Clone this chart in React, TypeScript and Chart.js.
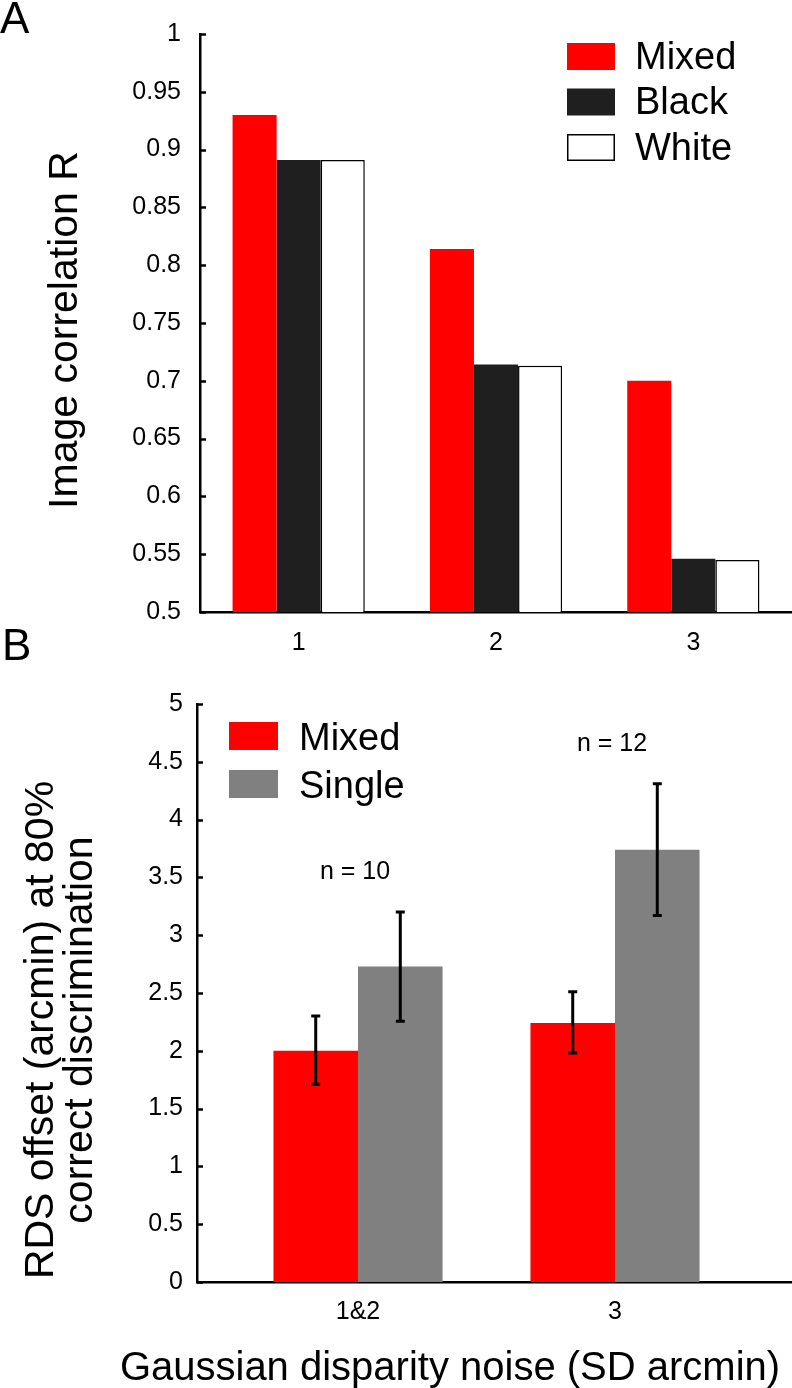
import React, { useEffect, useRef } from 'react';
import { Chart, registerables } from 'chart.js';

Chart.register(...registerables);

const FONT = '"Liberation Sans", Arial, Helvetica, sans-serif';

// ---------- Panel A data ----------
const A_CATEGORIES = ['1', '2', '3'];
const A_MIXED = [0.93, 0.814, 0.7];
const A_BLACK = [0.891, 0.714, 0.546];
const A_WHITE = [0.891, 0.713, 0.545];
const A_Y_TICKS = [0.5, 0.55, 0.6, 0.65, 0.7, 0.75, 0.8, 0.85, 0.9, 0.95, 1];
const A_Y_TITLE = 'Image correlation R';
const A_LEGEND = ['Mixed', 'Black', 'White'];

// ---------- Panel B data ----------
const B_CATEGORIES = ['1&2', '3'];
const B_X = [1, 2];
const B_MIXED = [2.0, 2.24];
const B_MIXED_LO = [1.71, 1.98];
const B_MIXED_HI = [2.3, 2.51];
const B_SINGLE = [2.73, 3.74];
const B_SINGLE_LO = [2.255, 3.17];
const B_SINGLE_HI = [3.2, 4.31];
const B_N_LABELS = ['n = 10', 'n = 12'];
const B_Y_TICKS = [0, 0.5, 1, 1.5, 2, 2.5, 3, 3.5, 4, 4.5, 5];
const B_Y_TITLE = ['RDS offset (arcmin) at 80%', 'correct discrimination'];
const B_X_TITLE = 'Gaussian disparity noise (SD arcmin)';
const B_LEGEND = ['Mixed', 'Single'];

const RED = '#ff0000';
const DARK = '#1f1f1f';
const GREY = '#808080';

const fmt = (v: number) => String(+Number(v).toFixed(2));

function innerTicks(len: number, width: number) {
  return {
    id: 'innerTicks',
    afterDraw(chart: any) {
      const y = chart.scales.y;
      const ctx = chart.ctx;
      const left = chart.chartArea.left;
      ctx.save();
      ctx.strokeStyle = '#000';
      ctx.lineWidth = width;
      y.ticks.forEach((t: any) => {
        const py = Math.round(y.getPixelForValue(t.value)) + 0.5;
        ctx.beginPath();
        ctx.moveTo(left, py);
        ctx.lineTo(left + len, py);
        ctx.stroke();
      });
      ctx.restore();
    },
  };
}

function drawLegend(
  chart: any,
  labels: string[],
  boxX: number,
  boxTop0: number,
  step: number,
  boxW: number,
  boxH: number,
  textX: number,
  baseOff: number,
  size: number
) {
  const ctx = chart.ctx;
  ctx.save();
  ctx.font = `${size}px ${FONT}`;
  ctx.textAlign = 'left';
  ctx.textBaseline = 'alphabetic';
  labels.forEach((lab, i) => {
    const ds = chart.data.datasets[i];
    const top = boxTop0 + i * step;
    ctx.fillStyle = ds.backgroundColor;
    ctx.fillRect(boxX, top, boxW, boxH);
    if (ds.borderWidth) {
      ctx.strokeStyle = ds.borderColor;
      ctx.lineWidth = 1.5;
      ctx.strokeRect(boxX + 0.75, top + 0.75, boxW - 1.5, boxH - 1.5);
    }
    ctx.fillStyle = '#000';
    ctx.fillText(lab, textX, top + baseOff);
  });
  ctx.restore();
}

function PanelA() {
  const ref = useRef<HTMLCanvasElement>(null);
  useEffect(() => {
    const decor = {
      id: 'decorA',
      afterDraw(chart: any) {
        const ctx = chart.ctx;
        ctx.save();
        ctx.fillStyle = '#000';
        ctx.font = `44px ${FONT}`;
        ctx.textAlign = 'left';
        ctx.textBaseline = 'alphabetic';
        ctx.fillText('A', 0, 33);
        ctx.translate(77, 330);
        ctx.rotate(-Math.PI / 2);
        ctx.textAlign = 'center';
        ctx.font = `41px ${FONT}`;
        ctx.fillText(A_Y_TITLE, 0, 0);
        ctx.restore();
        drawLegend(chart, A_LEGEND, 567, 43, 45.5, 48, 27, 635, 25.5, 38);
      },
    };
    const chart = new Chart(ref.current as HTMLCanvasElement, {
      type: 'bar',
      data: {
        labels: A_CATEGORIES,
        datasets: [
          { label: A_LEGEND[0], data: A_MIXED, backgroundColor: RED, borderWidth: 0 },
          { label: A_LEGEND[1], data: A_BLACK, backgroundColor: DARK, borderWidth: 0 },
          {
            label: A_LEGEND[2],
            data: A_WHITE,
            backgroundColor: '#ffffff',
            borderColor: '#000000',
            borderWidth: 1.5,
            borderSkipped: 'bottom',
          },
        ],
      } as any,
      options: {
        responsive: false,
        animation: false,
        layout: { padding: { top: 30, left: 0, right: 0, bottom: 0 } },
        datasets: { bar: { categoryPercentage: 0.67, barPercentage: 1 } },
        plugins: { legend: { display: false }, tooltip: { enabled: false } },
        scales: {
          x: {
            z: 1,
            grid: { display: false, drawTicks: false },
            border: { display: true, color: '#000', width: 2.5 },
            ticks: { font: { family: FONT, size: 25 }, color: '#000', padding: 16 },
            afterFit: (s: any) => {
              s.height = 68;
            },
          },
          y: {
            z: 1,
            min: 0.5,
            max: 1,
            afterBuildTicks: (s: any) => {
              s.ticks = A_Y_TICKS.map((v) => ({ value: v }));
            },
            grid: { display: false, drawTicks: false },
            border: { display: true, color: '#000', width: 2.5 },
            ticks: {
              font: { family: FONT, size: 25 },
              color: '#000',
              padding: 19,
              callback: (v: any) => fmt(v),
            },
            afterFit: (s: any) => {
              s.width = 200;
            },
          },
        },
      } as any,
      plugins: [innerTicks(6, 2.5), decor],
    });
    return () => chart.destroy();
  }, []);
  return (
    <canvas
      ref={ref}
      width={792}
      height={680}
      style={{ position: 'absolute', left: 0, top: 0, width: 792, height: 680 }}
    />
  );
}

function PanelB() {
  const ref = useRef<HTMLCanvasElement>(null);
  useEffect(() => {
    const errorBars = {
      id: 'errorBars',
      afterDatasetsDraw(chart: any) {
        const ctx = chart.ctx;
        const y = chart.scales.y;
        const sets = [
          [B_MIXED_LO, B_MIXED_HI],
          [B_SINGLE_LO, B_SINGLE_HI],
        ];
        ctx.save();
        ctx.strokeStyle = '#000';
        ctx.lineWidth = 3;
        sets.forEach(([lo, hi], di) => {
          const meta = chart.getDatasetMeta(di);
          meta.data.forEach((bar: any, j: number) => {
            const x = bar.x;
            const yl = y.getPixelForValue(lo[j]);
            const yh = y.getPixelForValue(hi[j]);
            ctx.beginPath();
            ctx.moveTo(x, yl);
            ctx.lineTo(x, yh);
            ctx.moveTo(x - 4.5, yl);
            ctx.lineTo(x + 4.5, yl);
            ctx.moveTo(x - 4.5, yh);
            ctx.lineTo(x + 4.5, yh);
            ctx.stroke();
          });
        });
        ctx.restore();
      },
    };
    const decor = {
      id: 'decorB',
      afterDraw(chart: any) {
        const ctx = chart.ctx;
        const xs = chart.scales.x;
        const ys = chart.scales.y;
        ctx.save();
        ctx.fillStyle = '#000';
        ctx.textBaseline = 'alphabetic';
        ctx.font = `44px ${FONT}`;
        ctx.textAlign = 'left';
        ctx.fillText('B', 2, 40);
        // n labels above the highest error bar of each group
        ctx.font = `25px ${FONT}`;
        ctx.textAlign = 'center';
        ctx.textBaseline = 'middle';
        B_N_LABELS.forEach((t, j) => {
          const top = Math.max(B_MIXED_HI[j], B_SINGLE_HI[j]);
          ctx.fillText(t, xs.getPixelForValue(B_X[j]) - 3, ys.getPixelForValue(top) - 40);
        });
        // x title
        ctx.textBaseline = 'alphabetic';
        ctx.font = `40px ${FONT}`;
        ctx.fillText(B_X_TITLE, 450, 760);
        // y title
        ctx.font = `41px ${FONT}`;
        ctx.save();
        ctx.translate(53, 410);
        ctx.rotate(-Math.PI / 2);
        ctx.fillText(B_Y_TITLE[0], 0, 0);
        ctx.restore();
        ctx.save();
        ctx.translate(92, 410);
        ctx.rotate(-Math.PI / 2);
        ctx.fillText(B_Y_TITLE[1], 0, 0);
        ctx.restore();
        ctx.restore();
        drawLegend(chart, B_LEGEND, 229, 102, 48, 49, 28, 299, 28, 38);
      },
    };
    const chart = new Chart(ref.current as HTMLCanvasElement, {
      type: 'bar',
      data: {
        datasets: [
          {
            label: B_LEGEND[0],
            data: B_MIXED.map((v, i) => ({ x: B_X[i], y: v })),
            backgroundColor: RED,
            borderWidth: 0,
          },
          {
            label: B_LEGEND[1],
            data: B_SINGLE.map((v, i) => ({ x: B_X[i], y: v })),
            backgroundColor: GREY,
            borderWidth: 0,
          },
        ],
      } as any,
      options: {
        responsive: false,
        animation: false,
        layout: { padding: { top: 84, left: 0, right: 0, bottom: 0 } },
        datasets: { bar: { categoryPercentage: 0.658, barPercentage: 1 } },
        plugins: { legend: { display: false }, tooltip: { enabled: false } },
        scales: {
          x: {
            type: 'linear',
            z: 1,
            offset: false,
            min: 0.3735,
            max: 2.6887,
            afterBuildTicks: (s: any) => {
              s.ticks = B_X.map((v) => ({ value: v }));
            },
            grid: { display: false, drawTicks: false },
            border: { display: true, color: '#000', width: 2.5 },
            ticks: {
              font: { family: FONT, size: 25 },
              color: '#000',
              padding: 15,
              autoSkip: false,
              maxRotation: 0,
              callback: (v: any, i: number) => B_CATEGORIES[i],
            },
            afterFit: (s: any) => {
              s.height = 106;
            },
          },
          y: {
            z: 1,
            min: 0,
            max: 5,
            afterBuildTicks: (s: any) => {
              s.ticks = B_Y_TICKS.map((v) => ({ value: v }));
            },
            grid: { display: false, drawTicks: false },
            border: { display: true, color: '#000', width: 2.5 },
            ticks: {
              font: { family: FONT, size: 25 },
              color: '#000',
              padding: 14,
              callback: (v: any) => fmt(v),
            },
            afterFit: (s: any) => {
              s.width = 197;
            },
          },
        },
      } as any,
      plugins: [innerTicks(6, 2.5), errorBars, decor],
    });
    return () => chart.destroy();
  }, []);
  return (
    <canvas
      ref={ref}
      width={792}
      height={768}
      style={{ position: 'absolute', left: 0, top: 620, width: 792, height: 768 }}
    />
  );
}

export default function App() {
  return (
    <div
      style={{
        position: 'absolute',
        left: 0,
        top: 0,
        width: 792,
        height: 1388,
        background: '#ffffff',
        overflow: 'hidden',
      }}
    >
      <PanelB />
      <PanelA />
    </div>
  );
}
